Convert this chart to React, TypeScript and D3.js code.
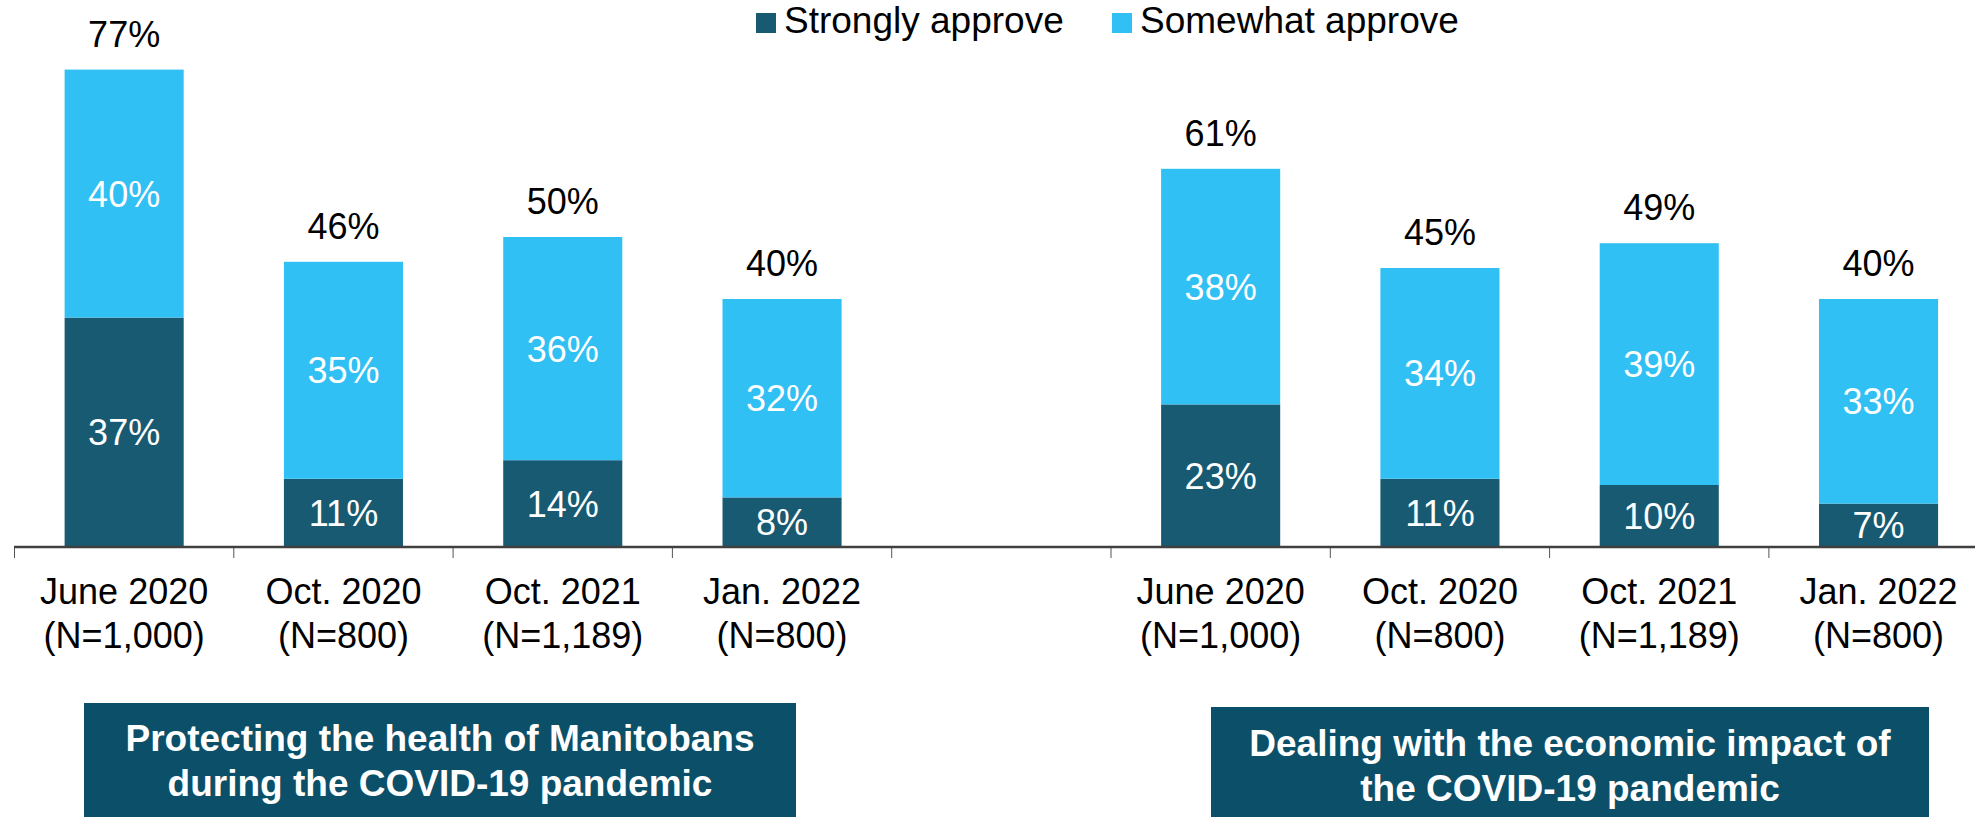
import React from "react";
import * as d3 from "d3";

const periods = ["June 2020", "Oct. 2020", "Oct. 2021", "Jan. 2022"];
const sampleSizes = ["(N=1,000)", "(N=800)", "(N=1,189)", "(N=800)"];
const healthStrongly = [37, 11, 14, 8];
const healthSomewhat = [40, 35, 36, 32];
const economyStrongly = [23, 11, 10, 7];
const economySomewhat = [38, 34, 39, 33];
const legendLabels = ["Strongly approve", "Somewhat approve"];
const groupTitles = [
  ["Protecting the health of Manitobans", "during the COVID-19 pandemic"],
  ["Dealing with the economic impact of", "the COVID-19 pandemic"],
];

const W = 1975;
const H = 817;
const DARK = "#185A72";
const LIGHT = "#31C0F4";
const BOX = "#0C4F68";
const FONT = "'Liberation Sans', Arial, Helvetica, sans-serif";

type Row = { key: string; period: string; n: string; strongly: number; somewhat: number };

const rows: Row[] = [
  ...periods.map((p, i) => ({ key: "h" + i, period: p, n: sampleSizes[i], strongly: healthStrongly[i], somewhat: healthSomewhat[i] })),
  { key: "gap", period: "", n: "", strongly: 0, somewhat: 0 },
  ...periods.map((p, i) => ({ key: "e" + i, period: p, n: sampleSizes[i], strongly: economyStrongly[i], somewhat: economySomewhat[i] })),
];

export default function App() {
  const axisY = 547;
  const x = d3
    .scaleBand<string>()
    .domain(rows.map((r) => r.key))
    .range([14.5, 14.5 + 9 * 219.3])
    .padding(0);
  const y = d3.scaleLinear().domain([0, 100]).range([axisY, axisY - 620]);
  const bw = x.bandwidth();
  const barW = bw * 0.543;
  const fs = 36;

  const ticks = rows.map((r) => x(r.key)!).concat([x(rows[rows.length - 1].key)! + bw]);

  const boxes = [
    { x0: 84, x1: 796, y0: 703, base: 751 },
    { x0: 1211, x1: 1929, y0: 707, base: 756 },
  ];

  return (
    <svg
      width={W}
      height={H}
      style={{ position: "absolute", left: 0, top: 0, background: "#fff" }}
      fontFamily={FONT}
    >
      {/* legend */}
      <rect x={756} y={13} width={20} height={20} fill={DARK} />
      <text x={784} y={33} fontSize={37} fill="#000">{legendLabels[0]}</text>
      <rect x={1112} y={13} width={20} height={20} fill={LIGHT} />
      <text x={1140} y={33} fontSize={37} fill="#000">{legendLabels[1]}</text>

      {/* bars */}
      {rows.filter((r) => r.key !== "gap").map((r) => {
        const bx = x(r.key)! + (bw - barW) / 2;
        const cx = x(r.key)! + bw / 2;
        const total = r.strongly + r.somewhat;
        const yS = y(r.strongly);
        const yT = y(total);
        return (
          <g key={r.key}>
            <rect x={bx} y={yS} width={barW} height={y(0) - yS} fill={DARK} />
            <rect x={bx} y={yT} width={barW} height={yS - yT} fill={LIGHT} />
            <text x={cx} y={(y(0) + yS) / 2 + 13} fontSize={fs} fill="#fff" textAnchor="middle">
              {r.strongly}%
            </text>
            <text x={cx} y={(yS + yT) / 2 + 13} fontSize={fs} fill="#fff" textAnchor="middle">
              {r.somewhat}%
            </text>
            <text x={cx} y={yT - 23} fontSize={fs} fill="#000" textAnchor="middle">
              {total}%
            </text>
            <text x={cx} y={604} fontSize={fs} fill="#000" textAnchor="middle">
              {r.period}
            </text>
            <text x={cx} y={648} fontSize={fs} fill="#000" textAnchor="middle">
              {r.n}
            </text>
          </g>
        );
      })}

      {/* axis */}
      {ticks.map((t, i) => (
        <line key={i} x1={t} x2={t} y1={axisY} y2={axisY + 11} stroke="#555" strokeWidth={1} />
      ))}
      <line x1={14} x2={W} y1={axisY} y2={axisY} stroke="#404040" strokeWidth={2.7} />

      {/* group title boxes */}
      {boxes.map((b, i) => (
        <g key={i}>
          <rect x={b.x0} y={b.y0} width={b.x1 - b.x0} height={H - b.y0 + 5} fill={BOX} />
          {groupTitles[i].map((line, j) => (
            <text
              key={j}
              x={(b.x0 + b.x1) / 2}
              y={b.base + j * 45}
              fontSize={37}
              fontWeight="bold"
              fill="#fff"
              textAnchor="middle"
            >
              {line}
            </text>
          ))}
        </g>
      ))}
    </svg>
  );
}
